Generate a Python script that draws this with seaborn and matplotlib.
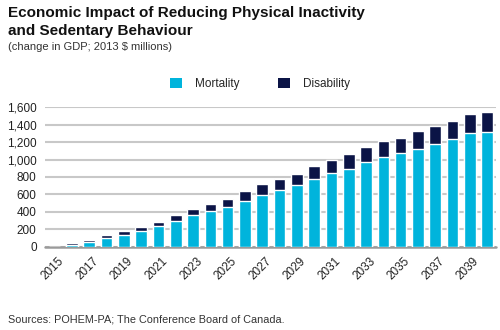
import matplotlib
matplotlib.use("Agg")
import matplotlib.pyplot as plt
import matplotlib.transforms as mtransforms
import seaborn as sns
import pandas as pd
from matplotlib.patches import Patch

years = list(range(2015, 2041))
mortality = [0, 15, 50, 103, 138, 180, 234, 291, 364, 406, 452, 529, 598, 651, 705,
             781, 843, 896, 973, 1034, 1072, 1122, 1183, 1237, 1306, 1314]
total = [0, 38, 72, 130, 180, 226, 287, 360, 433, 494, 548, 636, 720, 774, 831,
         923, 992, 1061, 1141, 1210, 1252, 1325, 1386, 1448, 1524, 1543]
disability = [t - m for t, m in zip(total, mortality)]
yticks = [0, 200, 400, 600, 800, 1000, 1200, 1400, 1600]

CYAN = "#00b4dc"
NAVY = "#0b1446"

sns.set_theme(style="white")
plt.rcParams['font.family'] = ['Liberation Sans', 'DejaVu Sans']

df = pd.DataFrame({"year": [str(y) for y in years],
                   "mortality": mortality,
                   "disability": disability})
df["total"] = df["mortality"] + df["disability"]

fig = plt.figure(figsize=(5, 3.3), dpi=100)
ax = fig.add_axes([0.09, 0.2525, 0.902, 0.4224])

sns.barplot(data=df, x="year", y="total", color=NAVY, width=0.67,
            saturation=1, ax=ax, zorder=3)
sns.barplot(data=df, x="year", y="mortality", color=CYAN, width=0.67,
            saturation=1, ax=ax, zorder=3)

ax.set_ylim(0, 1600)
ax.set_xlim(-0.56, 25.51)
ax.set_yticks(yticks)
ax.set_yticklabels([f"{v:,}" for v in yticks])
ax.yaxis.grid(True, color="#c8c8c8", linewidth=1.5, zorder=0)
ax.xaxis.grid(False)
for s in ax.spines.values():
    s.set_visible(False)
ax.axhline(0, color="#9a9a9a", linewidth=1.8, zorder=2, clip_on=False)
ax.set_xlabel("")
ax.set_ylabel("")
ax.tick_params(axis="both", length=0, labelsize=8.5, colors="#222222")
ax.tick_params(axis="y", pad=6)
ax.set_xticks(range(0, 26, 2))
ax.set_xticklabels([str(y) for y in years[::2]], rotation=45, ha="right",
                   rotation_mode="anchor")
ax.tick_params(axis="x", pad=6)
offset = mtransforms.ScaledTranslation(0.03, 0, fig.dpi_scale_trans)
for lab in ax.get_xticklabels():
    lab.set_transform(lab.get_transform() + offset)

fig.text(0.016, 1 - 16.7 / 330, "Economic Impact of Reducing Physical Inactivity",
         fontsize=11, fontweight="bold", va="baseline", color="#111111")
fig.text(0.016, 1 - 35 / 330, "and Sedentary Behaviour",
         fontsize=11, fontweight="bold", va="baseline", color="#111111")
fig.text(0.016, 1 - 50 / 330, "(change in GDP; 2013 $ millions)",
         fontsize=8, va="baseline", color="#333333")
fig.text(0.016, 1 - 322 / 330, "Sources: POHEM-PA; The Conference Board of Canada.",
         fontsize=7.8, va="baseline", color="#333333")

handles = [Patch(facecolor=CYAN, edgecolor="none", label="Mortality"),
           Patch(facecolor=NAVY, edgecolor="none", label="Disability")]
fig.legend(handles=handles, loc="center", bbox_to_anchor=(0.52, 1 - 84 / 330),
           ncol=2, frameon=False, fontsize=8.5, handlelength=1.0,
           handleheight=1.0, handletextpad=1.1, columnspacing=3.3)

fig.savefig("out.png", dpi=100)
